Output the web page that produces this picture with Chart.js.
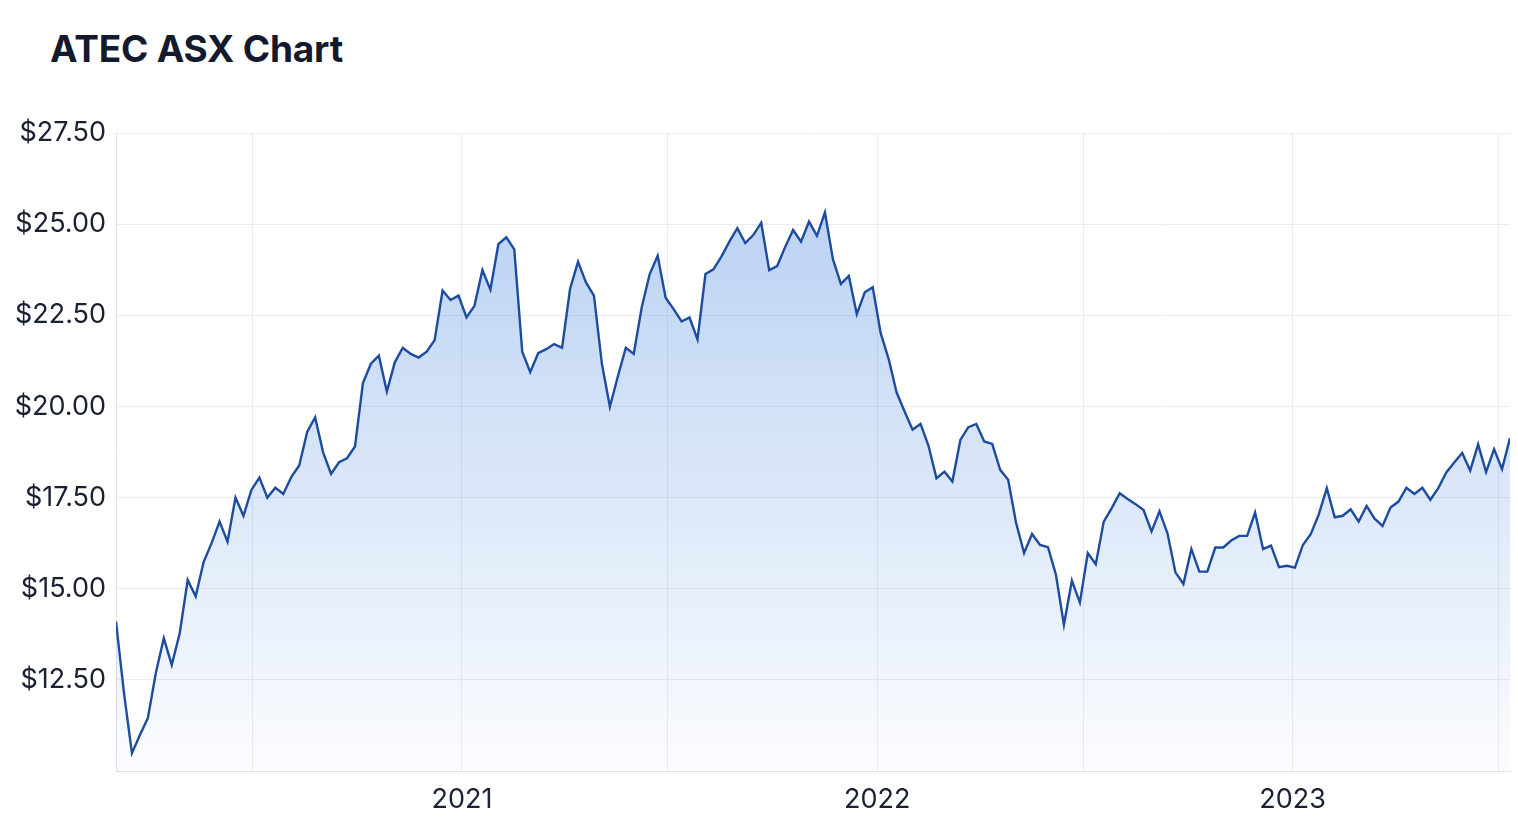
<!DOCTYPE html>
<html><head><meta charset="utf-8">
<script src="https://cdn.jsdelivr.net/npm/chart.js@4.4.1/dist/chart.umd.min.js"></script>
<style>
html,body{margin:0;padding:0;background:#fff;}
#wrap{position:relative;width:1518px;height:828px;overflow:hidden;}
#title{position:absolute;left:50px;top:26px;margin:0;font:700 37px Inter,"Noto Sans",sans-serif;color:#141a2e;letter-spacing:-0.2px;line-height:46px;}
canvas{position:absolute;left:0;top:0;}
</style></head><body>
<div id="wrap"><h1 id="title">ATEC ASX Chart</h1><canvas id="c" width="1518" height="828"></canvas></div>
<script>
const firstWeek = '2020-03-03';
const prices = [
14.10,12.14,10.49,10.99,11.45,12.69,13.64,12.91,13.78,15.24,
14.79,15.73,16.25,16.84,16.29,17.50,17.00,17.71,18.05,17.50,
17.77,17.60,18.06,18.38,19.30,19.70,18.74,18.15,18.47,18.58,
18.90,20.64,21.17,21.39,20.41,21.21,21.61,21.44,21.34,21.50,
21.82,23.18,22.92,23.04,22.44,22.76,23.74,23.20,24.45,24.64,
24.31,21.50,20.94,21.46,21.57,21.71,21.61,23.22,23.97,23.40,
23.04,21.17,19.99,20.82,21.61,21.44,22.72,23.63,24.13,22.98,
22.67,22.33,22.44,21.84,23.63,23.76,24.11,24.52,24.89,24.48,
24.70,25.04,23.74,23.85,24.37,24.84,24.52,25.07,24.68,25.32,
24.04,23.36,23.58,22.53,23.13,23.27,22.01,21.30,20.38,19.86,
19.36,19.52,18.92,18.03,18.21,17.94,19.08,19.43,19.52,19.04,
18.97,18.26,17.99,16.80,15.98,16.50,16.20,16.14,15.38,14.01,
15.22,14.62,15.98,15.67,16.84,17.21,17.62,17.46,17.32,17.16,
16.57,17.12,16.52,15.45,15.13,16.09,15.47,15.47,16.13,16.13,
16.32,16.45,16.45,17.09,16.09,16.18,15.59,15.63,15.58,16.20,
16.50,17.04,17.76,16.96,17.00,17.18,16.84,17.27,16.92,16.72,
17.23,17.39,17.77,17.60,17.77,17.44,17.76,18.19,18.46,18.72,
18.24,18.96,18.20,18.83,18.28,19.13
];
const gridDates = ['2020-07-01','2021-01-01','2021-07-01','2022-01-01','2022-07-01','2023-01-01','2023-07-01'];
const yearLabels = ['', '2021', '', '2022', '', '2023', ''];
const yTicks = [10, 12.5, 15, 17.5, 20, 22.5, 25, 27.5];

const DAY = 86400000;
const t0 = Date.parse(firstWeek + 'T00:00:00Z');
const weekDates = prices.map((_, i) => t0 + i * 7 * DAY);
const points = prices.map((p, i) => ({x: weekDates[i], y: p}));
const gridValues = gridDates.map(d => Date.parse(d + 'T00:00:00Z'));

const tickFont = {family: 'Inter, "Noto Sans", sans-serif', size: 27};
const tickColor = '#1a2133';
const gridColor = '#ececef';

new Chart(document.getElementById('c'), {
  type: 'line',
  data: {datasets: [{
    data: points,
    borderColor: '#1d4c9f',
    borderWidth: 2.4,
    pointRadius: 0,
    tension: 0,
    fill: 'start',
    backgroundColor: (ctx) => {
      const chart = ctx.chart; const a = chart.chartArea;
      if (!a) return 'rgba(80,140,225,0.2)';
      const g = chart.ctx.createLinearGradient(0, a.top, 0, a.bottom);
      g.addColorStop(0, 'rgba(72,134,222,0.42)');
      g.addColorStop(1, 'rgba(72,134,222,0.02)');
      return g;
    }
  }]},
  options: {
    responsive: false,
    animation: false,
    devicePixelRatio: 1,
    layout: {padding: {top: 133, right: 8, left: 0, bottom: 0}},
    plugins: {legend: {display: false}, title: {display: false}, tooltip: {enabled: false}},
    scales: {
      x: {
        type: 'linear',
        min: weekDates[0],
        max: weekDates[weekDates.length - 1],
        afterBuildTicks: s => { s.ticks = gridValues.map(v => ({value: v})); },
        afterFit: s => { s.height = 57; },
        ticks: {
          autoSkip: false, maxRotation: 0, padding: 13,
          font: tickFont, color: tickColor,
          callback: (v, i) => yearLabels[i]
        },
        grid: {color: gridColor, drawTicks: false, lineWidth: 1},
        border: {color: '#e2e2e6'}
      },
      y: {
        min: 10, max: 27.5,
        afterBuildTicks: s => { s.ticks = yTicks.map(v => ({value: v})); },
        afterFit: s => { s.width = 116; },
        ticks: {
          padding: 10, font: tickFont, color: tickColor,
          callback: v => v === 10 ? '' : '$' + v.toFixed(2)
        },
        grid: {color: gridColor, drawTicks: false, lineWidth: 1},
        border: {color: '#e2e2e6'}
      }
    }
  }
});
</script>
</body></html>
